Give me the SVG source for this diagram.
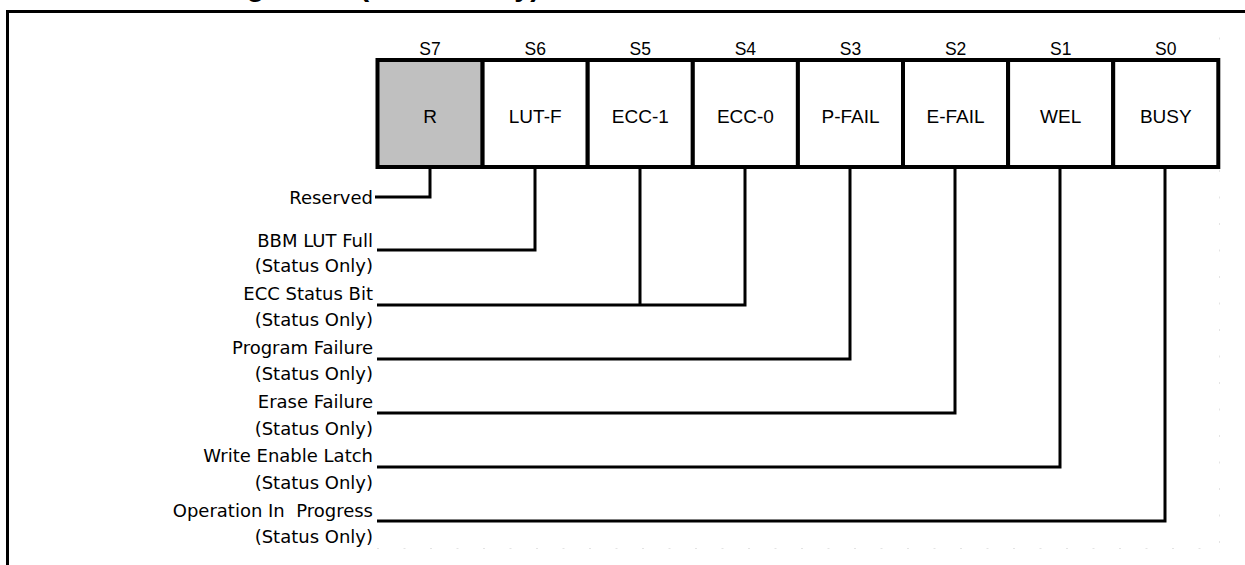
<svg xmlns="http://www.w3.org/2000/svg" width="1245" height="565" viewBox="0 0 1245 565">
<style>
.title{font-family:"Liberation Sans",Arial,sans-serif;font-weight:bold;font-size:29px;fill:#000}
.hdr{font-family:"Liberation Sans",Arial,sans-serif;font-size:17.5px;fill:#000;text-anchor:middle}
.cell{fill:#fff;stroke:#000;stroke-width:4}
.res{fill:#c0c0c0}
.ctext{font-family:"Liberation Sans",Arial,sans-serif;font-size:19px;fill:#000;text-anchor:middle}
.lbl{font-family:"DejaVu Sans",sans-serif;font-size:18px;fill:#000;text-anchor:end}
.conn{fill:none;stroke:#000;stroke-width:3}
.guide{fill:none;stroke:#e4e4e4;stroke-width:1;stroke-dasharray:2 24.5}
</style>
<rect width="1245" height="565" fill="#fff"/>
<text class="title" x="113" y="-4">Status Register-3 (Status Only)</text>
<path d="M7.5,566 V11.5 H1246" fill="none" stroke="#000" stroke-width="3"/>
<path class="guide" d="M377,548.5 H1219.5 V33"/>
<g id="connectors">
<path class="conn" d="M375,197 H430 V167"/>
<path class="conn" d="M377,250 H535 V167"/>
<path class="conn" d="M377,305 H745 V167 M640,305 V167"/>
<path class="conn" d="M377,359 H850 V167"/>
<path class="conn" d="M377,413 H955 V167"/>
<path class="conn" d="M377,467 H1060 V167"/>
<path class="conn" d="M377,521 H1165 V167"/>
</g>
<g id="S7"><rect class="cell res" x="377.5" y="60" width="105.1" height="107"/><text class="hdr" x="430" y="55">S7</text><text class="ctext" x="430" y="123">R</text></g>
<g id="S6"><rect class="cell" x="482.6" y="60" width="105.1" height="107"/><text class="hdr" x="535.2" y="55">S6</text><text class="ctext" x="535.2" y="123">LUT-F</text></g>
<g id="S5"><rect class="cell" x="587.7" y="60" width="105.1" height="107"/><text class="hdr" x="640.3" y="55">S5</text><text class="ctext" x="640.3" y="123">ECC-1</text></g>
<g id="S4"><rect class="cell" x="692.8" y="60" width="105.1" height="107"/><text class="hdr" x="745.4" y="55">S4</text><text class="ctext" x="745.4" y="123">ECC-0</text></g>
<g id="S3"><rect class="cell" x="797.9" y="60" width="105.1" height="107"/><text class="hdr" x="850.5" y="55">S3</text><text class="ctext" x="850.5" y="123">P-FAIL</text></g>
<g id="S2"><rect class="cell" x="903" y="60" width="105.1" height="107"/><text class="hdr" x="955.6" y="55">S2</text><text class="ctext" x="955.6" y="123">E-FAIL</text></g>
<g id="S1"><rect class="cell" x="1008.1" y="60" width="105.1" height="107"/><text class="hdr" x="1060.7" y="55">S1</text><text class="ctext" x="1060.7" y="123">WEL</text></g>
<g id="S0"><rect class="cell" x="1113.2" y="60" width="105.1" height="107"/><text class="hdr" x="1165.8" y="55">S0</text><text class="ctext" x="1165.8" y="123">BUSY</text></g>
<g id="labels">
<text class="lbl" x="373" y="204">Reserved</text>
<text class="lbl" x="373" y="247">BBM LUT Full</text>
<text class="lbl" x="373" y="272">(Status Only)</text>
<text class="lbl" x="373" y="300">ECC Status Bit</text>
<text class="lbl" x="373" y="326">(Status Only)</text>
<text class="lbl" x="373" y="354">Program Failure</text>
<text class="lbl" x="373" y="380">(Status Only)</text>
<text class="lbl" x="373" y="408">Erase Failure</text>
<text class="lbl" x="373" y="435">(Status Only)</text>
<text class="lbl" x="373" y="462">Write Enable Latch</text>
<text class="lbl" x="373" y="489">(Status Only)</text>
<text class="lbl" x="373" y="517" xml:space="preserve">Operation In  Progress</text>
<text class="lbl" x="373" y="543">(Status Only)</text>
</g>
</svg>
